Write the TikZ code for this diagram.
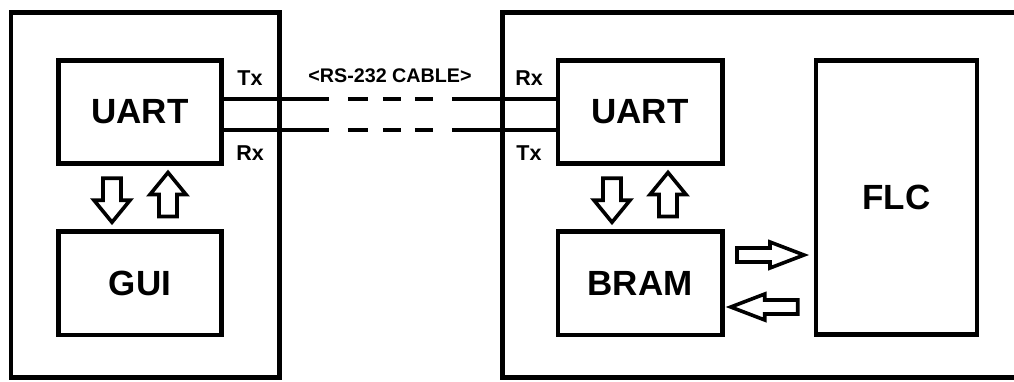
\documentclass[tikz,border=0pt]{standalone}
\usepackage{fontspec}
\setmainfont{Liberation Sans}
\usetikzlibrary{calc}
\tikzset{
  box/.style={draw, line width=4.5pt, inner sep=0pt, font=\fontsize{35}{40}\selectfont\bfseries},
  port/.style={inner sep=0pt, font=\fontsize{21.5}{24}\selectfont\bfseries},
  cable/.style={line width=4pt, line cap=butt,
    dash pattern=on 105pt off 19pt on 20pt off 15pt on 18pt off 14pt on 18pt off 19pt on 400pt},
  arrowline/.style={draw, line width=3.6pt, line join=miter, fill=white},
  pics/barrow/.style n args={4}{code={
    \path[arrowline] (0,-#3) -- ({#1-#2},-#3) -- ({#1-#2},-#4) -- (#1,0)
      -- ({#1-#2},#4) -- ({#1-#2},#3) -- (0,#3) -- cycle;}}
}
\begin{document}
\begin{tikzpicture}[x=1pt,y=-1pt]
\useasboundingbox (0,0) rectangle (1014,381);
% outer boxes
\node[box, minimum width=268.5pt, minimum height=365pt] (pc) at (145.25,195) {};
\draw[line width=4.5pt] (1020,12.5) -- (502.5,12.5) -- (502.5,377.5) -- (1020,377.5);
\coordinate (fpga) at (502.5,195);
% inner blocks
\node[box, minimum width=163pt, minimum height=103pt] (luart) at (140,112) {UART};
\node[box, minimum width=163pt, minimum height=103.5pt] (gui) at (140,283) {GUI};
\node[box, minimum width=164.5pt, minimum height=103pt] (ruart) at (640,112) {UART};
\node[box, minimum width=164.5pt, minimum height=103.5pt] (bram) at (640,283) {BRAM};
\node[box, minimum width=161pt, minimum height=274pt] (flc) at (896.5,197.5) {FLC};
% cable
\draw[cable] ([yshift=13.5pt]luart.east) -- ([yshift=13.5pt]ruart.west);
\draw[cable] ([yshift=-17.5pt]luart.east) -- ([yshift=-17.5pt]ruart.west);
\node[port] (ltx) at (250,78) {Tx};
\node[port] (lrx) at (250,153) {Rx};
\node[port] (rrx) at (529,78) {Rx};
\node[port] (rtx) at (529,153) {Tx};
\node[inner sep=0pt, font=\fontsize{19.7}{22}\selectfont\bfseries] (cablelbl) at (390,76) {<RS-232 CABLE>};
% vertical block arrows
\path (luart.south) ++(-28,12.5) pic[rotate=-90]{barrow={44}{22}{9}{18}};
\path (gui.north) ++(28,-12.5) pic[rotate=90]{barrow={44}{22}{9}{18}};
\path (ruart.south) ++(-28,12.5) pic[rotate=-90]{barrow={44}{22}{9}{18}};
\path (bram.north) ++(28,-12.5) pic[rotate=90]{barrow={44}{22}{9}{18}};
% horizontal block arrows
\path (bram.east) ++(12.5,-28) pic{barrow={67}{34}{7}{13}};
\path (flc.west) ++(-16,109.5) pic[rotate=180]{barrow={67}{34}{7}{13}};
\end{tikzpicture}
\end{document}
